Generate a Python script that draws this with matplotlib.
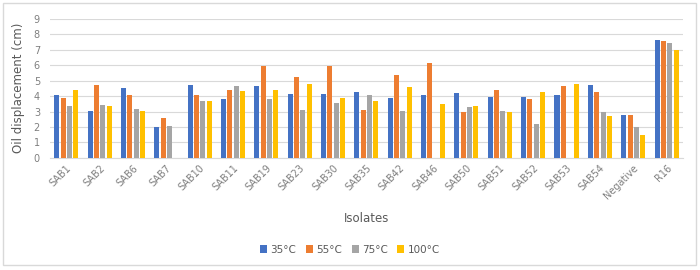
import matplotlib
matplotlib.use("Agg")
import matplotlib.pyplot as plt
import numpy as np
from matplotlib.patches import Rectangle

categories = ["SAB1", "SAB2", "SAB6", "SAB7", "SAB10", "SAB11", "SAB19", "SAB23",
              "SAB30", "SAB35", "SAB42", "SAB46", "SAB50", "SAB51", "SAB52", "SAB53",
              "SAB54", "Negative", "R16"]
t35 = [4.05, 3.03, 4.5, 1.97, 4.74, 3.81, 4.65, 4.16, 4.12, 4.27, 3.88, 4.06, 4.21, 3.93, 3.93, 4.06, 4.71, 2.75, 7.59]
t55 = [3.85, 4.74, 4.05, 2.6, 4.05, 4.39, 5.92, 5.2, 5.92, 3.1, 5.34, 6.12, 2.99, 4.38, 3.82, 4.62, 4.27, 2.8, 7.53]
t75 = [3.38, 3.44, 3.14, 2.06, 3.68, 4.65, 3.81, 3.1, 3.54, 4.06, 3.02, 0, 3.3, 3.04, 2.21, 0, 2.97, 2.0, 7.40]
t100 = [4.39, 3.33, 3.05, 0, 3.68, 4.35, 4.39, 4.75, 3.88, 3.69, 4.56, 3.49, 3.36, 2.99, 4.27, 4.79, 2.71, 1.47, 7.0]
series_labels = ["35°C", "55°C", "75°C", "100°C"]
colors = ["#4472C4", "#ED7D31", "#A5A5A5", "#FFC000"]

fig = plt.figure(figsize=(7, 2.7), dpi=100)
fig.patches.append(Rectangle((0.004, 0.02), 0.99, 0.97, transform=fig.transFigure,
                             fill=False, edgecolor="#D9D9D9", linewidth=1))
ax = fig.add_axes([0.071, 0.415, 0.905, 0.516])

x = np.arange(len(categories))
w = 0.15
step = 0.19
for i, (vals, lab, c) in enumerate(zip([t35, t55, t75, t100], series_labels, colors)):
    ax.bar(x + (i - 1.5) * step, vals, width=w, color=c, label=lab, zorder=3)

ax.set_xlim(-0.5, len(categories) - 0.5)
ax.set_ylim(0, 9)
ax.set_yticks(range(0, 10))
ax.yaxis.grid(True, color="#D9D9D9", linewidth=0.8, zorder=0)
for s in ["top", "right", "left"]:
    ax.spines[s].set_visible(False)
ax.spines["bottom"].set_color("#D9D9D9")
ax.tick_params(axis="both", length=0, colors="#7F7F7F", labelsize=7)
ax.tick_params(axis="y", pad=7)
ax.set_xticks(x)
ax.set_xticklabels(categories, rotation=45, ha="right", rotation_mode="anchor")
ax.set_ylabel("Oil displacement (cm)", color="#595959", fontsize=8.5, labelpad=6)
ax.set_xlabel("Isolates", color="#595959", fontsize=8.5, labelpad=8)

fig.legend(loc="center", bbox_to_anchor=(0.5, 0.075), ncol=4, frameon=False,
           fontsize=7.5, handlelength=0.7, handleheight=0.7, handletextpad=0.3,
           columnspacing=0.9, labelcolor="#595959")

fig.savefig("out.png", dpi=100)
